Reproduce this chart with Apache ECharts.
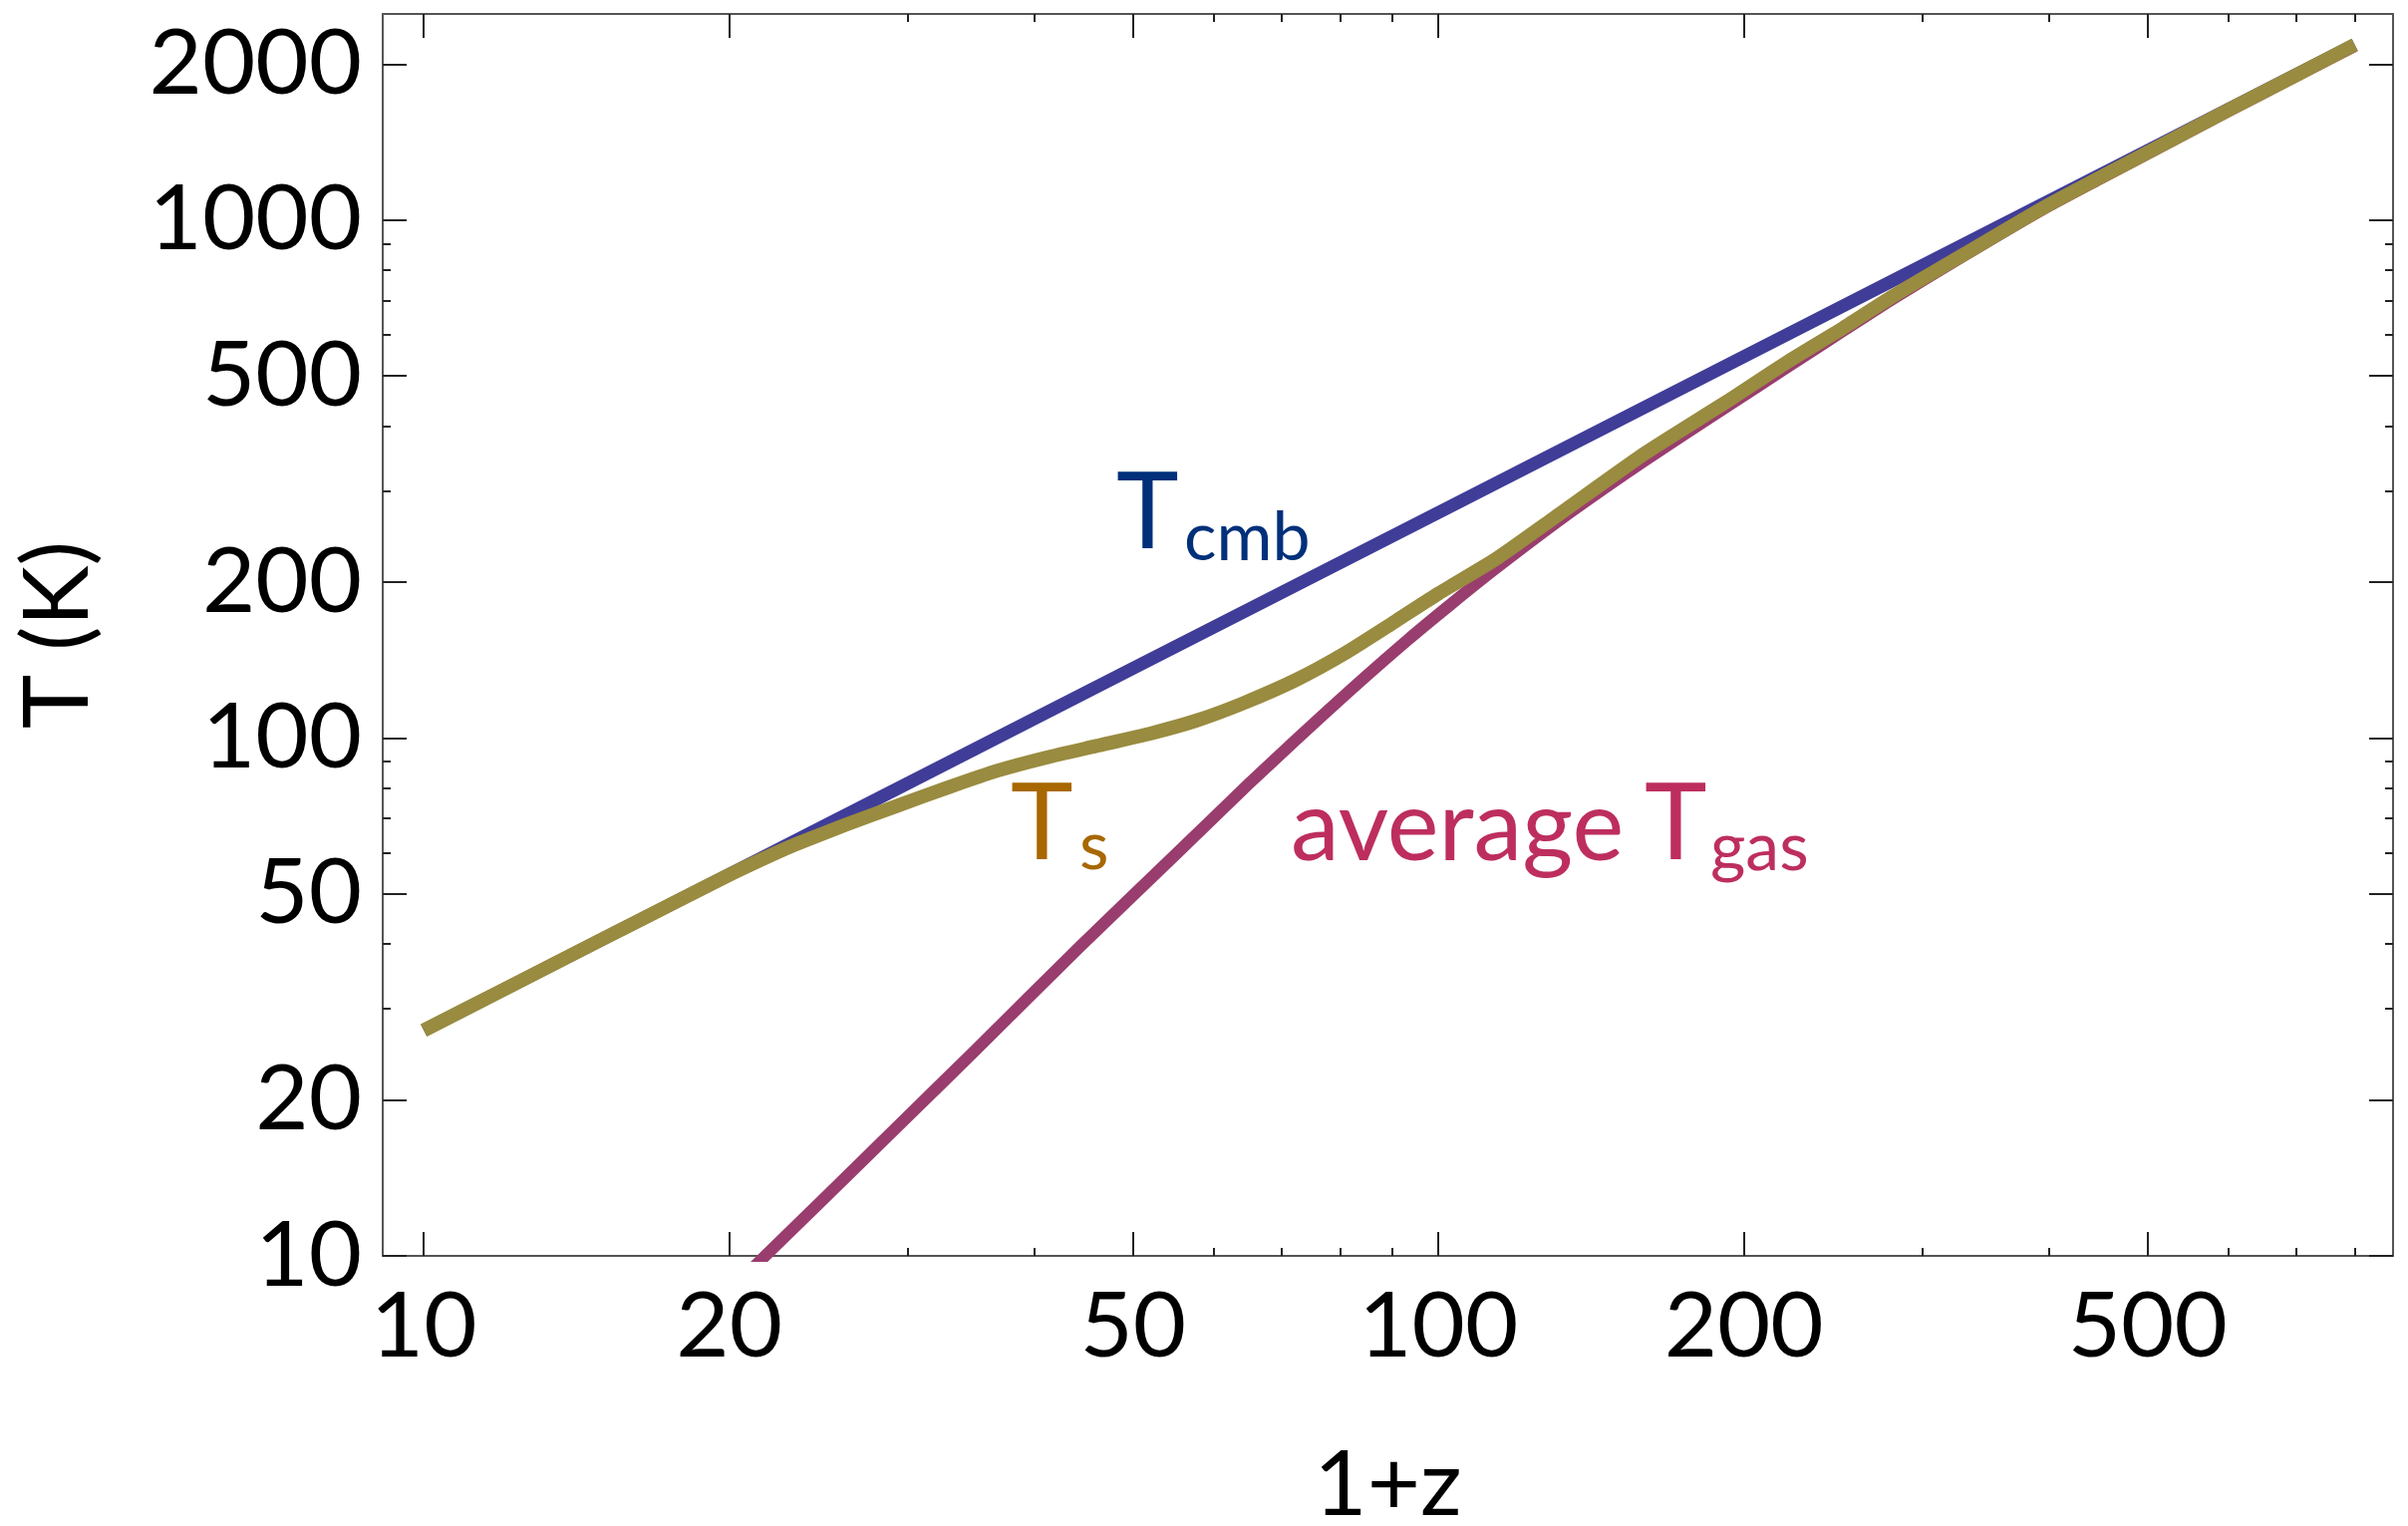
<!DOCTYPE html>
<html>
<head>
<meta charset="utf-8">
<title>Spin temperature vs redshift</title>
<script src="https://cdn.jsdelivr.net/npm/echarts@6/dist/echarts.min.js"></script>
<style>
  html, body { margin: 0; padding: 0; background: #ffffff; }
  #chart { width: 2416px; height: 1531px; }
</style>
</head>
<body>
<div id="chart"></div>
<script>
// ---- data: temperatures (K) against 1+z ----
const cmbZ = [10, 20, 50, 100, 200, 500, 800];
const cmbT = [27.25, 54.5, 136.3, 272.5, 545, 1362.5, 2180];

const spinZ = [10, 12, 15, 18, 20, 22, 23.3, 26, 29.3, 33, 36.7, 41, 46, 52, 57.7, 64, 72.3, 81, 90.7, 100,
               113.7, 130, 159.6, 192.7, 220, 250.9, 280.9, 330, 394.5, 450, 500, 600, 700, 800];
const spinT = [27.25, 32.7, 40.9, 49.0, 54.4, 59.4, 62.4, 67.9, 74.0, 80.5, 86.4, 91.6, 96.5, 102, 108, 116.4, 129.3, 146, 168, 190,
               221, 266, 354, 447, 530, 620, 714, 860, 1056, 1212, 1350, 1630, 1904, 2180];

const gasZ = [20, 21.7, 25, 30, 35, 44.3, 55, 65, 72.3, 82, 93.4, 103, 113.7, 135, 159.6, 192.7,
              220, 250.9, 280.9, 330, 394.5, 450, 500, 600, 700, 800];
const gasT = [8.55, 10, 13.1, 18.6, 25.0, 39.5, 59.4, 81.5, 99, 124, 155, 181.6, 212, 273, 343, 437,
              518, 612, 706, 855, 1050, 1205, 1343, 1622, 1895, 2169];

// ---- axis ticks ----
const xMajorTicks = [10, 20, 50, 100, 200, 500];
const xMinorTicks = [30, 40, 60, 70, 80, 90, 300, 400, 600, 700, 800];
const yMajorTicks = [10, 20, 50, 100, 200, 500, 1000, 2000];
const yMinorTicks = [30, 40, 60, 70, 80, 90, 300, 400, 600, 700, 800, 900];

const X_MIN = 9.11, X_MAX = 872.6;
const Y_MIN = 10, Y_MAX = 2500;

const FONT = 'Lato, "Open Sans", sans-serif';
const lg = Math.log10;
const pairs = (xs, ys) => xs.map((x, i) => [x, ys[i]]);
const powLabel = v => String(Math.round(Math.pow(10, v)));

// frame axes: ticks live on linear axes spanning log10 of the data range
function frameAxis(position, lo, hi, ticks, len, opts) {
  opts = opts || {};
  const vals = ticks.map(lg);
  return Object.assign({
    type: 'value',
    position: position,
    min: lg(lo),
    max: lg(hi),
    splitLine: { show: false },
    axisLine: { show: !!opts.line, onZero: false, lineStyle: { color: '#555555', width: 2 } },
    axisTick: { show: true, inside: true, length: len, customValues: vals,
                lineStyle: { color: '#222222', width: 2 } },
    axisLabel: opts.labels ? {
      show: true, customValues: vals, formatter: powLabel,
      margin: opts.margin, fontSize: 92, fontFamily: FONT, color: '#000000'
    } : { show: false }
  }, opts.extra || {});
}

const chart = echarts.init(document.getElementById('chart'), null, { renderer: 'canvas' });

chart.setOption({
  animation: false,
  backgroundColor: '#ffffff',
  grid: { left: 384, top: 14, right: 15, bottom: 271, containLabel: false, outerBoundsMode: 'none' },
  xAxis: [
    { type: 'log', logBase: 10, min: X_MIN, max: X_MAX, show: false, position: 'bottom' },
    frameAxis('bottom', X_MIN, X_MAX, xMajorTicks, 24, {
      line: true, labels: true, margin: 25,
      extra: { name: '1+z', nameLocation: 'middle', nameGap: 184,
               nameTextStyle: { fontSize: 92, fontFamily: FONT, color: '#000000' } }
    }),
    frameAxis('top', X_MIN, X_MAX, xMajorTicks, 24, { line: true }),
    frameAxis('bottom', X_MIN, X_MAX, xMinorTicks, 8, {}),
    frameAxis('top', X_MIN, X_MAX, xMinorTicks, 8, {})
  ],
  yAxis: [
    { type: 'log', logBase: 10, min: Y_MIN, max: Y_MAX, show: false, position: 'left' },
    frameAxis('left', Y_MIN, Y_MAX, yMajorTicks, 24, {
      line: true, labels: true, margin: 21,
      extra: { name: 'T (K)', nameLocation: 'middle', nameGap: 280, nameRotate: 90,
               nameTextStyle: { fontSize: 92, fontFamily: FONT, color: '#000000' } }
    }),
    frameAxis('right', Y_MIN, Y_MAX, yMajorTicks, 24, { line: true }),
    frameAxis('left', Y_MIN, Y_MAX, yMinorTicks, 8, {}),
    frameAxis('right', Y_MIN, Y_MAX, yMinorTicks, 8, {})
  ],
  series: [
    {
      name: 'T_cmb', type: 'line', xAxisIndex: 0, yAxisIndex: 0,
      data: pairs(cmbZ, cmbT), showSymbol: false, symbol: 'none', silent: true,
      lineStyle: { color: '#403D99', width: 13, cap: 'butt', join: 'round' }, z: 2
    },
    {
      name: 'T_gas', type: 'line', xAxisIndex: 0, yAxisIndex: 0,
      data: pairs(gasZ, gasT), showSymbol: false, symbol: 'none', silent: true,
      smooth: 0.2,
      lineStyle: { color: '#993D6E', width: 12, cap: 'butt', join: 'round' }, z: 3
    },
    {
      name: 'T_s', type: 'line', xAxisIndex: 0, yAxisIndex: 0,
      data: pairs(spinZ, spinT), showSymbol: false, symbol: 'none', silent: true,
      smooth: 0.2,
      lineStyle: { color: '#998B3F', width: 14, cap: 'butt', join: 'round' }, z: 4
    }
  ],
  graphic: [
    // T_cmb
    { type: 'text', x: 1120, y: 516, z: 10,
      style: { text: 'T', font: '106px ' + FONT, fill: '#00307A', align: 'left', verticalAlign: 'middle' } },
    { type: 'text', x: 1188, y: 540, z: 10,
      style: { text: 'cmb', font: '68px ' + FONT, fill: '#00307A', align: 'left', verticalAlign: 'middle' } },
    // T_s
    { type: 'text', x: 1014, y: 828, z: 10,
      style: { text: 'T', font: '106px ' + FONT, fill: '#A86700', align: 'left', verticalAlign: 'middle' } },
    { type: 'text', x: 1083, y: 850, z: 10,
      style: { text: 's', font: '68px ' + FONT, fill: '#A86700', align: 'left', verticalAlign: 'middle' } },
    // average T_gas
    { type: 'text', x: 1295, y: 831, z: 10,
      style: { text: 'average', font: '98px ' + FONT, fill: '#BD2E5E', align: 'left', verticalAlign: 'middle' } },
    { type: 'text', x: 1650, y: 828, z: 10,
      style: { text: 'T', font: '106px ' + FONT, fill: '#BD2E5E', align: 'left', verticalAlign: 'middle' } },
    { type: 'text', x: 1716, y: 851, z: 10,
      style: { text: 'gas', font: '68px ' + FONT, fill: '#BD2E5E', align: 'left', verticalAlign: 'middle' } }
  ]
});
</script>
</body>
</html>
